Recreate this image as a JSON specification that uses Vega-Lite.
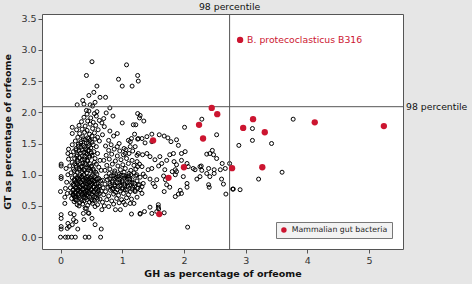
{
  "$schema": "https://vega.github.io/schema/vega-lite/v6.json",
  "width": 361,
  "height": 235,
  "autosize": "none",
  "padding": {"left": 42, "top": 14, "right": 69, "bottom": 35},
  "background": "#e6e6e6",
  "config": {
    "font": "DejaVu Sans",
    "view": {"fill": "white", "stroke": "#555555", "strokeWidth": 1},
    "axis": {"grid": false, "domain": false, "tickColor": "#555555", "tickSize": 4, "labelFontSize": 9.5, "labelColor": "#333333", "titleFontSize": 9.5, "titleFontWeight": "bold", "titleColor": "#111111", "labelPadding": 2},
    "legend": {"orient": "bottom-right", "offset": 11, "fillColor": "#f2f2f2", "strokeColor": "#777777", "padding": 4, "labelFontSize": 7.8, "labelColor": "#222222", "symbolSize": 30, "symbolStrokeWidth": 0}
  },
  "datasets": {
    "pts": [
      {"gh":0.51,"gt":2.81},{"gh":1.07,"gt":2.76},{"gh":0.42,"gt":2.59},{"gh":0.94,"gt":2.53},{"gh":1.25,"gt":2.59},{"gh":1.26,"gt":2.50},{"gh":1.00,"gt":2.42},{"gh":1.16,"gt":2.42},{"gh":0.59,"gt":2.42},{"gh":0.54,"gt":2.32},{"gh":0.46,"gt":2.27},{"gh":0.64,"gt":2.24},{"gh":0.73,"gt":2.24},{"gh":0.36,"gt":2.19},{"gh":0.27,"gt":2.12},{"gh":0.38,"gt":2.13},{"gh":0.48,"gt":2.12},{"gh":0.52,"gt":2.10},{"gh":0.56,"gt":2.16},{"gh":0.80,"gt":2.07},{"gh":0.42,"gt":2.03},{"gh":0.46,"gt":2.02},{"gh":0.59,"gt":2.01},{"gh":0.74,"gt":1.99},{"gh":1.25,"gt":1.98},
      {"gh":1.29,"gt":1.95},{"gh":1.28,"gt":1.91},{"gh":1.35,"gt":1.86},{"gh":1.22,"gt":1.80},{"gh":1.18,"gt":1.80},{"gh":1.00,"gt":1.83},{"gh":0.85,"gt":1.94},{"gh":2.01,"gt":1.76},{"gh":2.29,"gt":1.89},{"gh":2.53,"gt":1.64},{"gh":1.26,"gt":1.58},{"gh":1.40,"gt":1.61},{"gh":1.48,"gt":1.65},{"gh":1.48,"gt":1.53},{"gh":1.60,"gt":1.64},{"gh":1.68,"gt":1.62},{"gh":1.74,"gt":1.59},{"gh":1.79,"gt":1.53},{"gh":1.88,"gt":1.56},{"gh":1.91,"gt":1.47},{"gh":1.13,"gt":1.53},{"gh":0.95,"gt":1.50},{"gh":1.03,"gt":1.42},
      {"gh":1.96,"gt":1.34},{"gh":2.02,"gt":1.37},{"gh":2.37,"gt":1.33},{"gh":2.46,"gt":1.39},{"gh":2.48,"gt":1.32},{"gh":2.53,"gt":1.26},{"gh":2.62,"gt":1.18},{"gh":1.32,"gt":1.58},{"gh":1.37,"gt":1.51},{"gh":1.25,"gt":1.57},{"gh":1.21,"gt":1.45},{"gh":1.26,"gt":1.34},{"gh":1.33,"gt":1.32},{"gh":1.40,"gt":1.34},{"gh":1.45,"gt":1.29},{"gh":1.53,"gt":1.24},{"gh":1.61,"gt":1.29},{"gh":1.64,"gt":1.18},{"gh":1.72,"gt":1.23},{"gh":1.77,"gt":1.32},{"gh":1.83,"gt":1.34},{"gh":1.84,"gt":1.21},{"gh":1.88,"gt":1.16},{"gh":1.96,"gt":1.23},{"gh":2.05,"gt":1.18},{"gh":2.07,"gt":1.13},{"gh":2.15,"gt":1.10},{"gh":2.18,"gt":1.08},{"gh":2.26,"gt":1.13},{"gh":2.29,"gt":1.07},{"gh":2.40,"gt":1.10},{"gh":2.49,"gt":1.08},{"gh":2.59,"gt":1.08},{"gh":2.67,"gt":1.10},{"gh":1.24,"gt":1.21},{"gh":1.32,"gt":1.13},{"gh":1.42,"gt":1.08},{"gh":1.48,"gt":1.10},{"gh":1.59,"gt":1.14},{"gh":1.69,"gt":1.08},{"gh":1.81,"gt":1.05},{"gh":1.86,"gt":1.08},{"gh":1.25,"gt":1.13},
      {"gh":1.235,"gt":1.00},{"gh":1.29,"gt":0.96},{"gh":1.34,"gt":1.01},{"gh":1.37,"gt":0.97},{"gh":1.26,"gt":0.84},{"gh":1.32,"gt":0.81},{"gh":1.34,"gt":0.86},{"gh":1.29,"gt":0.76},{"gh":1.32,"gt":0.70},{"gh":1.21,"gt":0.73},{"gh":1.45,"gt":0.93},{"gh":1.50,"gt":0.86},{"gh":1.53,"gt":0.81},{"gh":1.56,"gt":0.92},{"gh":1.67,"gt":0.98},{"gh":1.70,"gt":0.92},{"gh":1.72,"gt":0.84},{"gh":1.77,"gt":0.80},{"gh":1.68,"gt":0.73},{"gh":1.86,"gt":1.00},{"gh":1.88,"gt":1.05},{"gh":1.99,"gt":0.97},{"gh":2.05,"gt":0.86},{"gh":2.05,"gt":0.80},{"gh":1.94,"gt":0.75},{"gh":1.91,"gt":0.69},{"gh":1.86,"gt":0.65},{"gh":1.96,"gt":0.70},{"gh":2.37,"gt":1.02},{"gh":2.42,"gt":0.97},{"gh":2.40,"gt":0.84},{"gh":2.41,"gt":0.80},{"gh":2.49,"gt":1.02},{"gh":2.61,"gt":0.93},{"gh":2.64,"gt":0.85},{"gh":2.68,"gt":0.69},{"gh":2.79,"gt":0.77},{"gh":2.21,"gt":0.93},{"gh":2.26,"gt":0.97},{"gh":2.28,"gt":1.14},{"gh":2.42,"gt":1.34},
      {"gh":1.45,"gt":0.48},{"gh":1.36,"gt":0.41},{"gh":1.29,"gt":0.37},{"gh":1.48,"gt":0.38},{"gh":1.56,"gt":0.41},{"gh":1.585,"gt":0.52},{"gh":1.585,"gt":0.48},{"gh":1.59,"gt":0.45},{"gh":1.68,"gt":0.39},{"gh":2.06,"gt":0.16},{"gh":1.15,"gt":0.37},
      {"gh":3.77,"gt":1.89},{"gh":3.11,"gt":1.74},{"gh":3.11,"gt":1.55},{"gh":3.42,"gt":1.50},{"gh":2.89,"gt":1.47},{"gh":2.74,"gt":1.18},{"gh":3.59,"gt":1.04},{"gh":3.21,"gt":0.93},{"gh":2.80,"gt":0.77},{"gh":2.91,"gt":0.76},
      {"gh":0.00,"gt":0.73},{"gh":0.07,"gt":0.64},{"gh":0.07,"gt":0.54},{"gh":0.20,"gt":0.68},{"gh":0.24,"gt":0.60},{"gh":0.27,"gt":0.52},{"gh":0.16,"gt":0.38},{"gh":0.21,"gt":0.28},{"gh":0.25,"gt":0.25},{"gh":0.01,"gt":0.36},{"gh":0.01,"gt":0.30},{"gh":0.12,"gt":0.22},{"gh":0.11,"gt":0.14},{"gh":0.14,"gt":0.17},{"gh":0.19,"gt":0.20},{"gh":0.01,"gt":0.17},{"gh":0.01,"gt":0.13},{"gh":0.28,"gt":0.13},{"gh":0.38,"gt":0.28},{"gh":0.46,"gt":0.38},{"gh":0.51,"gt":0.30},{"gh":0.56,"gt":0.20},{"gh":0.66,"gt":0.13},{"gh":0.40,"gt":0.46},{"gh":0.56,"gt":0.49},{"gh":0.67,"gt":0.44},{"gh":0.78,"gt":0.49},{"gh":0.89,"gt":0.44},{"gh":0.97,"gt":0.44},{"gh":1.05,"gt":0.52},{"gh":1.13,"gt":0.54},{"gh":1.19,"gt":0.54},{"gh":1.29,"gt":0.38},{"gh":0.37,"gt":0.38},{"gh":0.45,"gt":0.39},{"gh":0.22,"gt":0.36},
      {"gh":0.00,"gt":0.00},{"gh":0.08,"gt":0.00},{"gh":0.12,"gt":0.00},{"gh":0.18,"gt":0.00},{"gh":0.24,"gt":0.00},{"gh":0.40,"gt":0.00},{"gh":0.46,"gt":0.00},{"gh":0.65,"gt":0.00},
      {"gh":0.01,"gt":0.97},{"gh":0.01,"gt":0.94},{"gh":0.01,"gt":1.17},{"gh":0.01,"gt":1.14},{"gh":0.10,"gt":0.88},{"gh":0.12,"gt":1.00},{"gh":0.09,"gt":1.10},{"gh":0.13,"gt":1.25},{"gh":0.08,"gt":0.78},{"gh":0.11,"gt":0.70},{"gh":0.13,"gt":1.41},{"gh":0.12,"gt":1.34},{"gh":0.19,"gt":1.76},
      {"gh":0.30,"gt":0.50},{"gh":0.36,"gt":0.53},{"gh":0.44,"gt":0.51},{"gh":0.52,"gt":0.54},{"gh":0.60,"gt":0.52},{"gh":0.68,"gt":0.56},{"gh":0.75,"gt":0.60},{"gh":0.83,"gt":0.58},{"gh":0.91,"gt":0.62},{"gh":0.99,"gt":0.60},{"gh":1.07,"gt":0.63},{"gh":1.15,"gt":0.61},{"gh":1.24,"gt":0.64},{"gh":0.86,"gt":0.53},{"gh":0.95,"gt":0.55},{"gh":0.42,"gt":0.46},{"gh":0.71,"gt":0.50},{"gh":1.02,"gt":0.56},
      {"gh":0.22,"gt":0.57},{"gh":0.31,"gt":0.55},{"gh":0.38,"gt":0.58},{"gh":0.47,"gt":0.56},{"gh":0.55,"gt":0.59},
      {"gh":0.18,"gt":0.62},{"gh":0.26,"gt":0.64},{"gh":0.33,"gt":0.61},{"gh":0.41,"gt":0.63},{"gh":0.50,"gt":0.60},{"gh":0.58,"gt":0.63},{"gh":0.64,"gt":0.61},
      {"gh":0.21,"gt":0.67},{"gh":0.29,"gt":0.66},{"gh":0.36,"gt":0.68},{"gh":0.44,"gt":0.65},{"gh":0.52,"gt":0.67},{"gh":0.61,"gt":0.68},
      {"gh":0.17,"gt":0.71},{"gh":0.24,"gt":0.70},{"gh":0.32,"gt":0.72},{"gh":0.39,"gt":0.69},{"gh":0.46,"gt":0.71},{"gh":0.54,"gt":0.72},{"gh":0.63,"gt":0.70},
      {"gh":0.20,"gt":0.75},{"gh":0.28,"gt":0.74},{"gh":0.35,"gt":0.76},{"gh":0.43,"gt":0.73},{"gh":0.50,"gt":0.75},{"gh":0.57,"gt":0.77},{"gh":0.66,"gt":0.74},
      {"gh":0.16,"gt":0.79},{"gh":0.25,"gt":0.78},{"gh":0.31,"gt":0.80},{"gh":0.38,"gt":0.77},{"gh":0.45,"gt":0.79},{"gh":0.53,"gt":0.81},{"gh":0.60,"gt":0.78},
      {"gh":0.22,"gt":0.83},{"gh":0.29,"gt":0.82},{"gh":0.36,"gt":0.84},{"gh":0.42,"gt":0.81},{"gh":0.49,"gt":0.83},{"gh":0.56,"gt":0.85},{"gh":0.64,"gt":0.82},
      {"gh":0.18,"gt":0.87},{"gh":0.26,"gt":0.86},{"gh":0.33,"gt":0.88},{"gh":0.40,"gt":0.85},{"gh":0.47,"gt":0.87},{"gh":0.54,"gt":0.89},{"gh":0.61,"gt":0.86},
      {"gh":0.23,"gt":0.91},{"gh":0.30,"gt":0.90},{"gh":0.37,"gt":0.92},{"gh":0.44,"gt":0.89},{"gh":0.51,"gt":0.91},{"gh":0.58,"gt":0.93},{"gh":0.65,"gt":0.90},
      {"gh":0.19,"gt":0.95},{"gh":0.27,"gt":0.94},{"gh":0.34,"gt":0.96},{"gh":0.41,"gt":0.93},{"gh":0.48,"gt":0.95},{"gh":0.55,"gt":0.97},{"gh":0.62,"gt":0.94},
      {"gh":0.24,"gt":0.99},{"gh":0.31,"gt":0.98},{"gh":0.38,"gt":1.00},{"gh":0.45,"gt":0.97},{"gh":0.52,"gt":0.99},{"gh":0.59,"gt":1.01},
      {"gh":0.255,"gt":0.595},{"gh":0.345,"gt":0.585},{"gh":0.425,"gt":0.60},{"gh":0.515,"gt":0.58},{"gh":0.60,"gt":0.605},
      {"gh":0.225,"gt":0.645},{"gh":0.305,"gt":0.635},{"gh":0.385,"gt":0.655},{"gh":0.475,"gt":0.64},{"gh":0.555,"gt":0.65},
      {"gh":0.205,"gt":0.69},{"gh":0.285,"gt":0.685},{"gh":0.355,"gt":0.70},{"gh":0.425,"gt":0.68},{"gh":0.505,"gt":0.695},{"gh":0.585,"gt":0.69},
      {"gh":0.24,"gt":0.725},{"gh":0.315,"gt":0.735},{"gh":0.395,"gt":0.72},{"gh":0.465,"gt":0.74},{"gh":0.535,"gt":0.73},{"gh":0.615,"gt":0.745},
      {"gh":0.21,"gt":0.765},{"gh":0.285,"gt":0.76},{"gh":0.36,"gt":0.775},{"gh":0.425,"gt":0.755},{"gh":0.495,"gt":0.77},{"gh":0.575,"gt":0.76},
      {"gh":0.245,"gt":0.805},{"gh":0.325,"gt":0.81},{"gh":0.405,"gt":0.795},{"gh":0.47,"gt":0.815},{"gh":0.545,"gt":0.80},{"gh":0.62,"gt":0.81},
      {"gh":0.205,"gt":0.845},{"gh":0.275,"gt":0.85},{"gh":0.355,"gt":0.835},{"gh":0.435,"gt":0.855},{"gh":0.505,"gt":0.845},{"gh":0.585,"gt":0.855},
      {"gh":0.255,"gt":0.885},{"gh":0.325,"gt":0.875},{"gh":0.395,"gt":0.895},{"gh":0.47,"gt":0.88},{"gh":0.545,"gt":0.90},
      {"gh":0.225,"gt":0.925},{"gh":0.295,"gt":0.935},{"gh":0.365,"gt":0.915},{"gh":0.445,"gt":0.93},{"gh":0.52,"gt":0.92},{"gh":0.60,"gt":0.935},
      {"gh":0.275,"gt":0.965},{"gh":0.35,"gt":0.975},{"gh":0.43,"gt":0.96},{"gh":0.50,"gt":0.97},
      {"gh":0.225,"gt":1.06},{"gh":0.31,"gt":1.07},{"gh":0.39,"gt":1.065},{"gh":0.455,"gt":1.08},{"gh":0.535,"gt":1.065},
      {"gh":0.255,"gt":1.12},{"gh":0.345,"gt":1.13},{"gh":0.425,"gt":1.12},{"gh":0.50,"gt":1.135},
      {"gh":0.23,"gt":1.175},{"gh":0.32,"gt":1.17},{"gh":0.40,"gt":1.185},{"gh":0.48,"gt":1.175},
      {"gh":0.27,"gt":1.235},{"gh":0.35,"gt":1.24},{"gh":0.43,"gt":1.23},
      {"gh":0.26,"gt":1.295},{"gh":0.39,"gt":1.29},{"gh":0.47,"gt":1.30},{"gh":0.32,"gt":1.345},{"gh":0.41,"gt":1.355},{"gh":0.50,"gt":1.35},
      {"gh":0.25,"gt":1.395},{"gh":0.35,"gt":1.40},{"gh":0.44,"gt":1.385},{"gh":0.29,"gt":1.455},{"gh":0.39,"gt":1.445},{"gh":0.46,"gt":1.465},
      {"gh":0.33,"gt":1.505},{"gh":0.42,"gt":1.51},{"gh":0.51,"gt":1.52},{"gh":0.37,"gt":1.575},{"gh":0.46,"gt":1.58},
      {"gh":0.17,"gt":1.03},{"gh":0.27,"gt":1.04},{"gh":0.35,"gt":1.05},{"gh":0.42,"gt":1.03},{"gh":0.49,"gt":1.06},{"gh":0.57,"gt":1.04},{"gh":0.66,"gt":1.07},
      {"gh":0.21,"gt":1.09},{"gh":0.30,"gt":1.10},{"gh":0.38,"gt":1.08},{"gh":0.46,"gt":1.11},{"gh":0.53,"gt":1.09},{"gh":0.62,"gt":1.12},
      {"gh":0.15,"gt":1.14},{"gh":0.25,"gt":1.15},{"gh":0.33,"gt":1.13},{"gh":0.41,"gt":1.16},{"gh":0.50,"gt":1.14},{"gh":0.58,"gt":1.17},
      {"gh":0.19,"gt":1.20},{"gh":0.28,"gt":1.21},{"gh":0.36,"gt":1.19},{"gh":0.44,"gt":1.22},{"gh":0.55,"gt":1.20},{"gh":0.64,"gt":1.23},
      {"gh":0.23,"gt":1.26},{"gh":0.31,"gt":1.27},{"gh":0.39,"gt":1.25},{"gh":0.47,"gt":1.28},{"gh":0.56,"gt":1.26},
      {"gh":0.17,"gt":1.31},{"gh":0.27,"gt":1.32},{"gh":0.35,"gt":1.30},{"gh":0.43,"gt":1.33},{"gh":0.51,"gt":1.31},{"gh":0.60,"gt":1.34},
      {"gh":0.21,"gt":1.37},{"gh":0.30,"gt":1.38},{"gh":0.38,"gt":1.36},{"gh":0.46,"gt":1.39},{"gh":0.54,"gt":1.37},
      {"gh":0.25,"gt":1.42},{"gh":0.33,"gt":1.44},{"gh":0.41,"gt":1.41},{"gh":0.49,"gt":1.43},{"gh":0.58,"gt":1.45},
      {"gh":0.19,"gt":1.48},{"gh":0.29,"gt":1.49},{"gh":0.37,"gt":1.47},{"gh":0.45,"gt":1.50},{"gh":0.53,"gt":1.48},
      {"gh":0.24,"gt":1.54},{"gh":0.33,"gt":1.53},{"gh":0.40,"gt":1.56},{"gh":0.48,"gt":1.55},{"gh":0.56,"gt":1.57},{"gh":0.63,"gt":1.54},
      {"gh":0.28,"gt":1.60},{"gh":0.36,"gt":1.61},{"gh":0.44,"gt":1.59},{"gh":0.51,"gt":1.62},{"gh":0.60,"gt":1.60},
      {"gh":0.19,"gt":1.66},{"gh":0.31,"gt":1.66},{"gh":0.39,"gt":1.68},{"gh":0.47,"gt":1.65},{"gh":0.55,"gt":1.67},{"gh":0.68,"gt":1.64},
      {"gh":0.26,"gt":1.72},{"gh":0.35,"gt":1.73},{"gh":0.43,"gt":1.71},{"gh":0.52,"gt":1.74},{"gh":0.61,"gt":1.72},
      {"gh":0.30,"gt":1.79},{"gh":0.40,"gt":1.78},{"gh":0.48,"gt":1.81},{"gh":0.57,"gt":1.79},
      {"gh":0.34,"gt":1.85},{"gh":0.44,"gt":1.86},{"gh":0.53,"gt":1.84},{"gh":0.63,"gt":1.87},
      {"gh":0.38,"gt":1.92},{"gh":0.49,"gt":1.91},{"gh":0.58,"gt":1.94},{"gh":0.70,"gt":1.90},
      {"gh":0.43,"gt":1.97},{"gh":0.55,"gt":1.98},
      {"gh":0.67,"gt":1.83},{"gh":0.71,"gt":1.77},{"gh":0.86,"gt":1.62},{"gh":1.10,"gt":1.55},{"gh":0.78,"gt":1.55},{"gh":0.80,"gt":1.70},{"gh":0.92,"gt":1.66},{"gh":1.20,"gt":1.65},{"gh":1.15,"gt":1.58},
      {"gh":0.72,"gt":1.07},{"gh":0.80,"gt":1.09},{"gh":0.88,"gt":1.06},{"gh":0.97,"gt":1.08},{"gh":1.05,"gt":1.10},{"gh":1.14,"gt":1.07},{"gh":1.22,"gt":1.09},
      {"gh":0.75,"gt":1.15},{"gh":0.84,"gt":1.17},{"gh":0.93,"gt":1.14},{"gh":1.01,"gt":1.16},{"gh":1.10,"gt":1.18},{"gh":1.19,"gt":1.15},{"gh":1.28,"gt":1.17},
      {"gh":0.70,"gt":1.23},{"gh":0.79,"gt":1.25},{"gh":0.89,"gt":1.22},{"gh":0.98,"gt":1.24},{"gh":1.07,"gt":1.26},{"gh":1.16,"gt":1.23},
      {"gh":0.74,"gt":1.31},{"gh":0.83,"gt":1.33},{"gh":0.92,"gt":1.30},{"gh":1.02,"gt":1.32},{"gh":1.11,"gt":1.34},{"gh":1.24,"gt":1.31},
      {"gh":0.78,"gt":1.39},{"gh":0.87,"gt":1.41},{"gh":0.96,"gt":1.38},{"gh":1.06,"gt":1.40},{"gh":1.17,"gt":1.38},
      {"gh":0.73,"gt":1.46},{"gh":0.82,"gt":1.48},{"gh":0.92,"gt":1.45},{"gh":1.13,"gt":1.45},{"gh":1.05,"gt":1.34},
      {"gh":0.70,"gt":0.68},{"gh":0.78,"gt":0.66},{"gh":0.86,"gt":0.69},{"gh":0.94,"gt":0.67},{"gh":1.02,"gt":0.70},{"gh":1.10,"gt":0.68},
      {"gh":0.73,"gt":0.73},{"gh":0.81,"gt":0.75},{"gh":0.89,"gt":0.72},{"gh":0.97,"gt":0.74},{"gh":1.05,"gt":0.76},{"gh":1.13,"gt":0.73},{"gh":1.21,"gt":0.75},
      {"gh":0.69,"gt":0.79},{"gh":0.77,"gt":0.80},{"gh":0.85,"gt":0.78},{"gh":0.93,"gt":0.81},{"gh":1.01,"gt":0.79},{"gh":1.09,"gt":0.82},{"gh":1.17,"gt":0.80},{"gh":1.25,"gt":0.78},
      {"gh":0.72,"gt":0.85},{"gh":0.80,"gt":0.86},{"gh":0.88,"gt":0.84},{"gh":0.96,"gt":0.87},{"gh":1.04,"gt":0.85},{"gh":1.12,"gt":0.88},{"gh":1.20,"gt":0.86},{"gh":1.28,"gt":0.84},
      {"gh":0.68,"gt":0.91},{"gh":0.76,"gt":0.92},{"gh":0.84,"gt":0.90},{"gh":0.92,"gt":0.93},{"gh":1.00,"gt":0.91},{"gh":1.08,"gt":0.94},{"gh":1.16,"gt":0.92},{"gh":1.24,"gt":0.90},
      {"gh":0.74,"gt":0.97},{"gh":0.82,"gt":0.98},{"gh":0.90,"gt":0.96},{"gh":0.98,"gt":0.99},{"gh":1.06,"gt":0.97},{"gh":1.14,"gt":1.00},{"gh":1.22,"gt":0.98},
      {"gh":0.79,"gt":1.02},{"gh":0.87,"gt":1.03},{"gh":0.95,"gt":1.01},{"gh":1.03,"gt":1.04},{"gh":1.11,"gt":1.02},{"gh":1.19,"gt":1.03},
      {"gh":0.84,"gt":0.765},{"gh":0.92,"gt":0.76},{"gh":1.00,"gt":0.77},{"gh":1.08,"gt":0.755},{"gh":1.16,"gt":0.77},
      {"gh":0.80,"gt":0.825},{"gh":0.88,"gt":0.815},{"gh":0.96,"gt":0.83},{"gh":1.04,"gt":0.82},{"gh":1.12,"gt":0.835},{"gh":1.20,"gt":0.82},
      {"gh":0.84,"gt":0.875},{"gh":0.92,"gt":0.87},{"gh":1.00,"gt":0.885},{"gh":1.08,"gt":0.87},{"gh":1.16,"gt":0.88},
      {"gh":0.80,"gt":0.935},{"gh":0.88,"gt":0.94},{"gh":0.96,"gt":0.925},{"gh":1.04,"gt":0.945},{"gh":1.12,"gt":0.93},
      {"gh":0.86,"gt":0.985},{"gh":0.94,"gt":0.975},{"gh":1.02,"gt":0.99},{"gh":1.10,"gt":0.98}
    ],
    "gut": [
      {"gh":2.91,"gt":3.16,"group":"Mammalian gut bacteria","label":"B. protecoclasticus B316"},
      {"gh":2.45,"gt":2.07,"group":"Mammalian gut bacteria"},
      {"gh":2.54,"gt":1.97,"group":"Mammalian gut bacteria"},
      {"gh":2.245,"gt":1.80,"group":"Mammalian gut bacteria"},
      {"gh":2.31,"gt":1.58,"group":"Mammalian gut bacteria"},
      {"gh":1.50,"gt":1.55,"group":"Mammalian gut bacteria"},
      {"gh":2.00,"gt":1.12,"group":"Mammalian gut bacteria"},
      {"gh":1.75,"gt":0.95,"group":"Mammalian gut bacteria"},
      {"gh":1.60,"gt":0.37,"group":"Mammalian gut bacteria"},
      {"gh":3.12,"gt":1.89,"group":"Mammalian gut bacteria"},
      {"gh":2.96,"gt":1.75,"group":"Mammalian gut bacteria"},
      {"gh":3.31,"gt":1.68,"group":"Mammalian gut bacteria"},
      {"gh":4.12,"gt":1.84,"group":"Mammalian gut bacteria"},
      {"gh":5.24,"gt":1.78,"group":"Mammalian gut bacteria"},
      {"gh":2.78,"gt":1.105,"group":"Mammalian gut bacteria"},
      {"gh":3.27,"gt":1.12,"group":"Mammalian gut bacteria"}
    ]
  },
  "encoding": {
    "x": {"field": "gh", "type": "quantitative", "scale": {"domain": [-0.3, 5.55], "nice": false, "zero": false}, "axis": {"values": [0, 1, 2, 3, 4, 5], "title": "GH as percentage of orfeome", "titlePadding": 4}},
    "y": {"field": "gt", "type": "quantitative", "scale": {"domain": [-0.19, 3.575], "nice": false, "zero": false}, "axis": {"values": [0, 0.5, 1, 1.5, 2, 2.5, 3, 3.5], "format": ".1f", "title": "GT as percentage of orfeome", "titlePadding": 8}}
  },
  "layer": [
    {"data": {"name": "pts"}, "mark": {"type": "point", "shape": "circle", "filled": false, "stroke": "black", "strokeWidth": 1, "size": 16, "opacity": 1}},
    {"data": {"values": [{"v": 2.74}]}, "mark": {"type": "rule", "color": "#555555", "strokeWidth": 1}, "encoding": {"x": {"field": "v", "type": "quantitative"}, "y": null}},
    {"data": {"values": [{"v": 2.09}]}, "mark": {"type": "rule", "color": "#555555", "strokeWidth": 1}, "encoding": {"y": {"field": "v", "type": "quantitative"}, "x": null}},
    {"data": {"name": "gut"}, "mark": {"type": "circle", "size": 40, "opacity": 1}, "encoding": {"color": {"field": "group", "type": "nominal", "scale": {"domain": ["Mammalian gut bacteria"], "range": ["#cc1530"]}, "legend": {"title": null}}}},
    {"data": {"name": "gut"}, "transform": [{"filter": "isValid(datum.label)"}], "mark": {"type": "text", "align": "left", "baseline": "middle", "dx": 7, "fontSize": 9.3, "color": "#cc1530"}, "encoding": {"text": {"field": "label"}}},
    {"data": {"values": [{"t": "98 percentile", "gh": 2.74, "gt": 3.575}]}, "mark": {"type": "text", "align": "center", "baseline": "bottom", "dy": -2, "fontSize": 9.3, "color": "#111111"}, "encoding": {"text": {"field": "t"}}},
    {"data": {"values": [{"t": "98 percentile", "gh": 5.55, "gt": 2.09}]}, "mark": {"type": "text", "align": "left", "baseline": "middle", "dx": 3, "fontSize": 9.3, "color": "#111111"}, "encoding": {"text": {"field": "t"}}}
  ]
}
